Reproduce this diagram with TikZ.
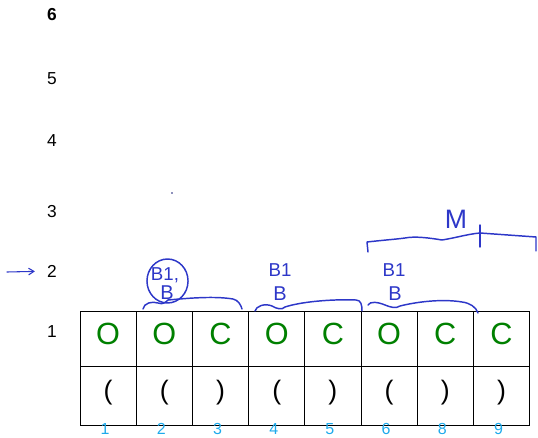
\documentclass[tikz,border=0pt]{standalone}
\usepackage{fontspec}
\setmainfont{Liberation Sans}
\usepackage{tikz}
\usetikzlibrary{arrows.meta}
\definecolor{okgreen}{RGB}{0,128,0}
\definecolor{idxblue}{RGB}{30,170,235}
\definecolor{ink}{RGB}{45,55,200}
\newcommand{\opn}{(}
\newcommand{\cls}{)}

\begin{document}
\begin{tikzpicture}[x=0.75pt, y=-0.75pt,
  cell/.style={draw, line width=0.75pt, minimum width=42.15pt, inner sep=0pt},
  topcell/.style={cell, minimum height=41.25pt, text=okgreen, font=\fontsize{23}{23}\selectfont, text height=16.5pt, text depth=7.5pt},
  botcell/.style={cell, minimum height=44.25pt, font=\fontsize{20}{20}\selectfont, text height=14.6pt, text depth=8.7pt},
  idx/.style={text=idxblue, font=\fontsize{12}{12}\selectfont, inner sep=0pt},
  lvl/.style={font=\fontsize{13}{13}\selectfont, inner sep=1pt},
  hand/.style={draw=ink, line width=1.1pt, line cap=round, line join=round},
  handtxt/.style={text=ink, inner sep=0pt}]

\useasboundingbox (0,0) rectangle (538,438);

% level numbers
\foreach \k/\yy in {1/332, 2/271, 3/212, 4/141, 5/79}
  \node[lvl] (lvl\k) at (52,\yy) {\k};
\node[lvl, font=\fontsize{13}{13}\selectfont\bfseries] (lvl6) at (52,15) {6};

% the arrow
\coordinate (arrowtail) at (7,272);
\draw[hand, line width=0.8pt, -{Straight Barb[length=4pt, width=5pt]}, shorten >=8pt] (arrowtail) -- (lvl2);

% cells
\foreach \ltr/\brk/\pos [count=\i] in {O/\opn/1, O/\opn/2, C/\cls/3, O/\opn/4, C/\cls/5, O/\opn/6, C/\cls/8, C/\cls/9} {
  \node[topcell] (top\i) at ({80+56.2*(\i-0.5)},338.5) {\ltr};
  \node[botcell] (bot\i) at ({80+56.2*(\i-0.5)},395.5) {\brk};
  \node[idx] (idx\i) at ({77+56.2*(\i-0.5)},429) {\pos};
}

% B1 B notes
\node[handtxt, font=\fontsize{14}{14}\selectfont] (noteA1) at (165,275) {B1,};
\node[handtxt, font=\fontsize{15}{15}\selectfont] (noteA2) at (167,293) {B};
\draw[hand] (167.5,281) ellipse [x radius=15.4pt, y radius=16.5pt];
\node[handtxt, font=\fontsize{14}{14}\selectfont] (noteB1) at (280,270) {B1};
\node[handtxt, font=\fontsize{15}{15}\selectfont] (noteB2) at (280,294) {B};
\node[handtxt, font=\fontsize{14}{14}\selectfont] (noteC1) at (394,270) {B1};
\node[handtxt, font=\fontsize{15}{15}\selectfont] (noteC2) at (395,294) {B};

% braces
\draw[hand] (143,309) .. controls (144,303) and (152,301) .. (158,303) .. controls (163,305) and (166,302) .. (168,300) .. controls (190,298) and (215,296) .. (233,299) .. controls (238,300) and (241,305) .. (242,309);
\draw[hand] (255,311) .. controls (256,306) and (265,303) .. (272,306) .. controls (277,309) and (282,310) .. (285,307) .. controls (300,302) and (330,299) .. (356,300) .. controls (361,300) and (362,305) .. (362,311);
\draw[hand] (368,305) .. controls (370,301) and (378,302) .. (385,305) .. controls (390,307) and (396,309) .. (400,306) .. controls (420,301) and (445,299) .. (462,302) .. controls (470,303) and (476,307) .. (478,313);

% M
\node[handtxt, font=\fontsize{20}{20}\selectfont] (noteM) at (456,219) {M};
\draw[hand] (368,252) -- (367,242) .. controls (385,240) and (398,239) .. (405,238) .. controls (415,236) and (430,238) .. (442,240) .. controls (455,238) and (468,234) .. (480,233) -- (536,237) -- (536,251);
\draw[hand] (480,225) -- (480,247);

% stray dot
\fill[ink!60!black] (172,193) circle [radius=0.7pt];

\end{tikzpicture}
\end{document}
